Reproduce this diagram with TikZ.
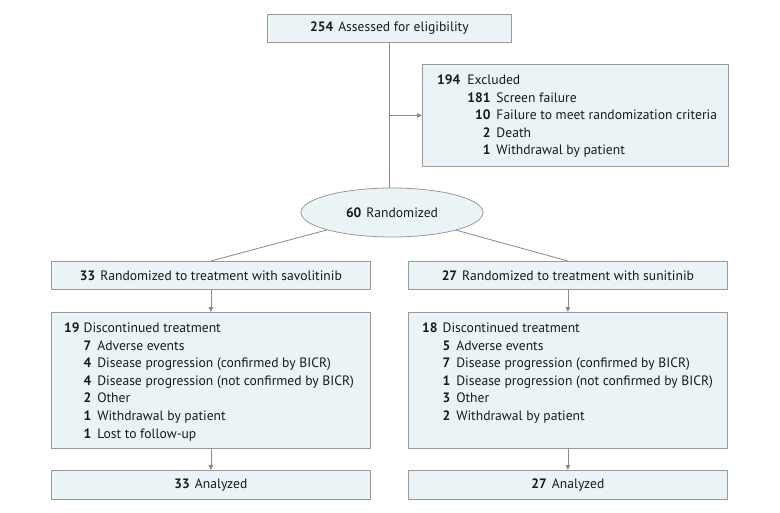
\documentclass[tikz,border=0pt]{standalone}
\usepackage{fontspec}
\setmainfont{PT Sans}
\usetikzlibrary{arrows.meta,shapes.geometric,calc}
\definecolor{boxfill}{HTML}{EAF3F5}
\definecolor{boxline}{HTML}{9A9A9A}
\definecolor{connc}{HTML}{8A8A8A}
\definecolor{txt}{HTML}{1A1A1A}
\begin{document}
\begin{tikzpicture}[x=1pt,y=-1pt,
  box/.style={draw=boxline, fill=boxfill, line width=0.8pt, inner sep=0pt, anchor=north west,
    text=txt, font=\fontsize{13.6}{17.6}\selectfont},
  conn/.style={draw=connc, line width=0.8pt},
  arr/.style={conn, -{Triangle[length=5pt,width=4.5pt]}},
  lbl/.style={inner sep=0pt, text=txt, anchor=north west, font=\fontsize{13.6}{17.6}\selectfont}
]
\useasboundingbox (0,0) rectangle (780,512);
\fill[white] (0,0) rectangle (780,512);

% top
\node[box, minimum width=244pt, minimum height=28pt] (assess) at (267,14)
  {\textbf{254}\hspace{5pt}Assessed for eligibility};

% excluded
\node[box, minimum width=306pt, minimum height=102pt] (excl) at (422,64) {};
\node[lbl] (excltext) at (437,72) {\begin{tabular}{@{}r@{\hspace{7pt}}r@{\hspace{6pt}}l@{}}
\textbf{194} & \multicolumn{2}{@{}l@{}}{Excluded}\\
 & \textbf{181} & Screen failure\\
 & \textbf{10} & Failure to meet randomization criteria\\
 & \textbf{2} & Death\\
 & \textbf{1} & Withdrawal by patient
\end{tabular}};

% randomized
\node[ellipse, draw=boxline, fill=boxfill, line width=0.8pt, minimum width=182pt, minimum height=49pt,
  inner sep=0pt, text=txt, font=\fontsize{13.6}{17.6}\selectfont] (rand) at (392,212.5)
  {\textbf{60}\hspace{5pt}Randomized};

% arms
\node[box, minimum width=319pt, minimum height=28pt] (sav) at (51,261)
  {\textbf{33}\hspace{5pt}Randomized to treatment with savolitinib};
\node[box, minimum width=319pt, minimum height=28pt] (sun) at (408,261)
  {\textbf{27}\hspace{5pt}Randomized to treatment with sunitinib};

\node[box, minimum width=319pt, minimum height=136pt] (disc1) at (51,312) {};
\node[lbl] (disc1text) at (64,320) {\begin{tabular}{@{}r@{\hspace{4pt}}r@{\hspace{6pt}}l@{}}
\textbf{19} & \multicolumn{2}{@{}l@{}}{Discontinued treatment}\\
 & \textbf{7} & Adverse events\\
 & \textbf{4} & Disease progression (confirmed by BICR)\\
 & \textbf{4} & Disease progression (not confirmed by BICR)\\
 & \textbf{2} & Other\\
 & \textbf{1} & Withdrawal by patient\\
 & \textbf{1} & Lost to follow-up
\end{tabular}};

\node[box, minimum width=319pt, minimum height=136pt] (disc2) at (408,312) {};
\node[lbl] (disc2text) at (422,320) {\begin{tabular}{@{}r@{\hspace{5pt}}r@{\hspace{6pt}}l@{}}
\textbf{18} & \multicolumn{2}{@{}l@{}}{Discontinued treatment}\\
 & \textbf{5} & Adverse events\\
 & \textbf{7} & Disease progression (confirmed by BICR)\\
 & \textbf{1} & Disease progression (not confirmed by BICR)\\
 & \textbf{3} & Other\\
 & \textbf{2} & Withdrawal by patient
\end{tabular}};

\node[box, minimum width=319pt, minimum height=29pt] (an1) at (51,470)
  {\textbf{33}\hspace{5pt}Analyzed};
\node[box, minimum width=319pt, minimum height=29pt] (an2) at (408,470)
  {\textbf{27}\hspace{5pt}Analyzed};

% connectors
\draw[conn] (assess.south) -- (assess.south |- rand.north);
\draw[arr] (assess.south |- excl.west) -- (excl.west);
\draw[conn] (rand) -- (sav.north);
\draw[conn] (rand) -- (sun.north);
\draw[arr] (sav.south) -- (disc1.north);
\draw[arr] (sun.south) -- (disc2.north);
\draw[arr] (disc1.south) -- (an1.north);
\draw[arr] (disc2.south) -- (an2.north);
\end{tikzpicture}
\end{document}
